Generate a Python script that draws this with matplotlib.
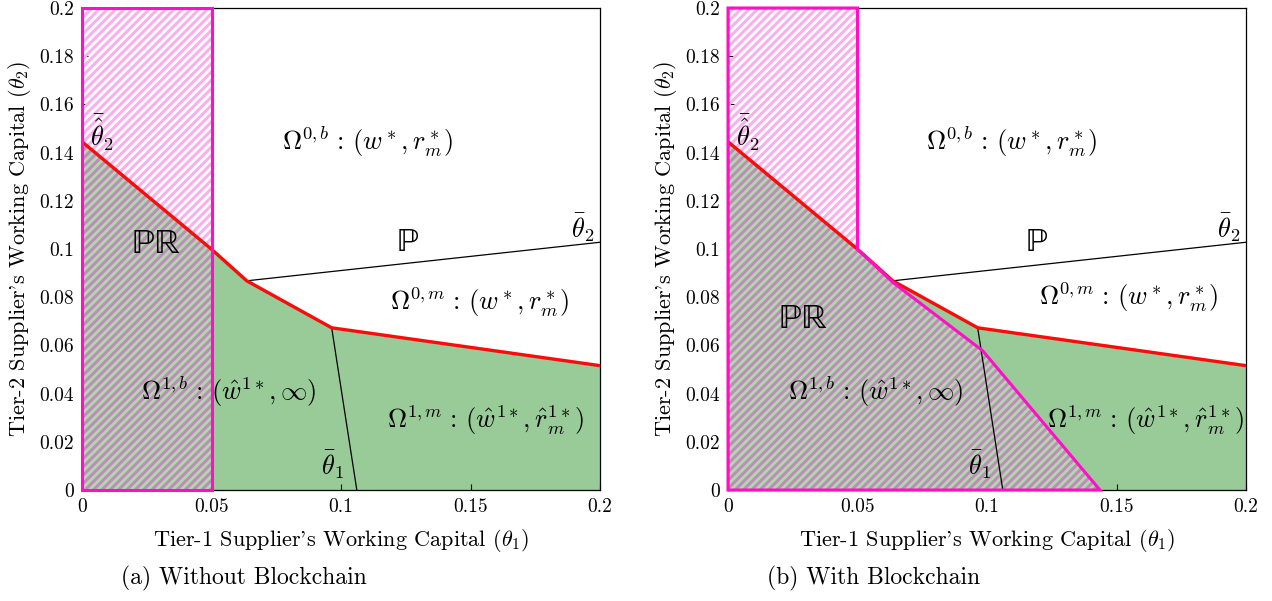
import numpy as np
import matplotlib
matplotlib.use("Agg")
import matplotlib.pyplot as plt
from matplotlib.patches import Polygon

plt.rcParams.update({
    'font.family': 'serif',
    'font.serif': ['cmr10', 'DejaVu Serif'],
    'mathtext.fontset': 'cm',
    'axes.formatter.use_mathtext': True,
    'hatch.linewidth': 2.2,
    'xtick.direction': 'in',
    'ytick.direction': 'in',
})

# boundaries
red_x = [0.0, 0.05, 0.0636, 0.0964, 0.2]
red_y = [0.1445, 0.0999, 0.0868, 0.0673, 0.0516]
p_line_x = [0.0636, 0.2]
p_line_y = [0.0868, 0.1028]
t1_line_x = [0.0964, 0.1061]
t1_line_y = [0.0673, 0.0]
mag_x = [0.05, 0.0636, 0.0983, 0.1436]
mag_y = [0.0999, 0.0862, 0.0578, 0.0]
rect_w = 0.05
rect_h = 0.2

xticks = [0, 0.05, 0.1, 0.15, 0.2]
xticklabels = ['0', '0.05', '0.1', '0.15', '0.2']
yticks = [0, 0.02, 0.04, 0.06, 0.08, 0.1, 0.12, 0.14, 0.16, 0.18, 0.2]
yticklabels = ['0', '0.02', '0.04', '0.06', '0.08', '0.1', '0.12', '0.14', '0.16', '0.18', '0.2']

green = '#98cb98'
green_light = '#b2d8ae'
red = '#ff0a0a'
magenta = '#ff10c8'
hatch_white = '#fbb0ec'
hatch_green = '#bd8eb8'

fig = plt.figure(figsize=(12.72, 6.01), dpi=100)
ax1 = fig.add_axes([82/1272, 111/601, 518/1272, 482/601])
ax2 = fig.add_axes([728/1272, 111/601, 518/1272, 482/601])

def base(ax):
    g = np.column_stack([red_x + [0.2, 0.0], red_y + [0.0, 0.0]])
    ax.add_patch(Polygon(g, closed=True, facecolor=green, edgecolor='none', zorder=1))
    ax.plot(p_line_x, p_line_y, color='black', lw=0.9, zorder=3)
    ax.plot(t1_line_x, t1_line_y, color='black', lw=0.9, zorder=3)
    ax.plot(red_x, red_y, color=red, lw=2.4, zorder=4, solid_capstyle='butt')
    ax.set_xlim(0, 0.2)
    ax.set_ylim(0, 0.2)
    ax.set_xticks(xticks)
    ax.set_xticklabels(xticklabels, fontsize=14)
    ax.set_yticks(yticks)
    ax.set_yticklabels(yticklabels, fontsize=14)
    ax.tick_params(length=4, width=0.8, pad=6)
    for s in ax.spines.values():
        s.set_linewidth(0.9)
    ax.set_xlabel(r"Tier-1 Supplier's Working Capital ($\theta_1$)", fontsize=16, labelpad=8)
    ax.set_ylabel(r"Tier-2 Supplier's Working Capital ($\theta_2$)", fontsize=16, labelpad=4)

def hatched(ax, xs, ys):
    pts = np.column_stack([xs, ys])
    below = Polygon(np.column_stack([red_x + [0.2, 0.0], red_y + [0.0, 0.0]]),
                    closed=True, facecolor='none', edgecolor='none')
    above = Polygon(np.column_stack([red_x + [0.2, 0.0], red_y + [0.2, 0.2]]),
                    closed=True, facecolor='none', edgecolor='none')
    ax.add_patch(below)
    ax.add_patch(above)
    bg = ax.add_patch(Polygon(pts, closed=True, facecolor=green_light, edgecolor='none', zorder=2))
    bg.set_clip_path(below)
    hg = ax.add_patch(Polygon(pts, closed=True, facecolor='none', edgecolor=hatch_green,
                              hatch='////', linewidth=0, zorder=2))
    hg.set_clip_path(below)
    hw = ax.add_patch(Polygon(pts, closed=True, facecolor='none', edgecolor=hatch_white,
                              hatch='////', linewidth=0, zorder=2))
    hw.set_clip_path(above)
    ax.add_patch(Polygon(pts, closed=True, facecolor='none', edgecolor=magenta,
                         linewidth=2.2, zorder=5, clip_on=False))

base(ax1)
hatched(ax1, [0, rect_w, rect_w, 0], [0, 0, rect_h, rect_h])

base(ax2)
hatched(ax2, [0, 0, rect_w] + mag_x, [0, rect_h, rect_h] + mag_y)

fs = 19
def labels(ax, o0b, p, pr, o0m, o1b, o1m, t1, t2, th2):
    kw = dict(fontsize=fs, ha='center', va='center', zorder=6)
    bb = dict(family='STIXGeneral', ha='center', va='center', zorder=6)
    ax.text(*o0b, r"$\Omega^{0,b}\;\!:\,(w^*, r_m^*)$", **kw)
    ax.text(*p, "\u2119", fontsize=24, **bb)
    ax.text(*pr, "\u2119\u211d", fontsize=25, **bb)
    ax.text(*o0m, r"$\Omega^{0,m}\;\!:\,(w^*, r_m^*)$", **kw)
    ax.text(*o1b, r"$\Omega^{1,b}\;\!:\,(\hat{w}^{1*}, \infty)$", **kw)
    ax.text(*o1m, r"$\Omega^{1,m}\;\!:\,(\hat{w}^{1*}, \hat{r}_m^{1*})$", **kw)
    ax.text(*t1, r"$\bar{\theta}_1$", **kw)
    ax.text(*t2, r"$\bar{\theta}_2$", **kw)
    ax.text(*th2, r"$\bar{\hat{\theta}}_2$", fontsize=fs, ha='left', va='center', zorder=6)

labels(ax1, (0.1102, 0.1444), (0.1259, 0.1025), (0.0286, 0.1017), (0.1537, 0.0781),
       (0.0568, 0.0407), (0.1556, 0.029), (0.0969, 0.0104), (0.1934, 0.1087), (0.003, 0.148))
labels(ax2, (0.1096, 0.1444), (0.1193, 0.1025), (0.029, 0.0705), (0.1548, 0.080),
       (0.0571, 0.0407), (0.161, 0.029), (0.0973, 0.0104), (0.1934, 0.1087), (0.003, 0.148))

fig.text(244/1272, 1 - 578/601, "(a) Without Blockchain", fontsize=17, ha='center', va='center')
fig.text(874/1272, 1 - 578/601, "(b) With Blockchain", fontsize=17, ha='center', va='center')

fig.savefig("out.png", dpi=100)
